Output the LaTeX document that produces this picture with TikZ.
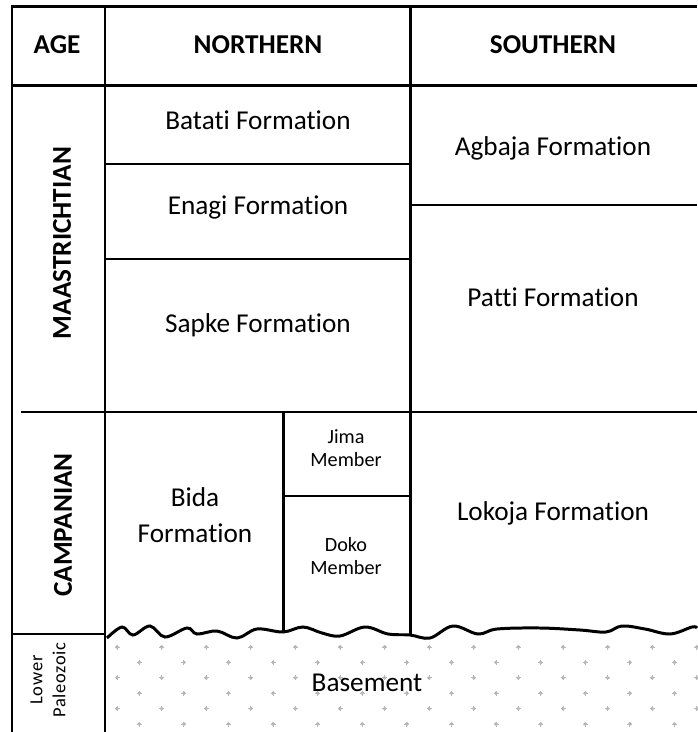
\documentclass[tikz,border=0pt]{standalone}
\usepackage{fontspec}
\setmainfont{Carlito}[Ligatures=NoCommon]
\tikzset{
  hd/.style={font=\fontsize{15.5}{18}\selectfont\bfseries},
  fm/.style={font=\fontsize{15.5}{20.5}\selectfont, align=center},
  mb/.style={font=\fontsize{11.5}{13.5}\selectfont, align=center},
  lp/.style={font=\fontsize{10.5}{13}\selectfont\addfontfeature{LetterSpace=4}, align=center, rotate=90},
}
\newcommand{\speck}[2]{\fill[gray!70] (#1,#2) circle[radius=1.1pt];
  \draw[gray!55, line width=0.5pt] (#1-2.5,#2) -- (#1+2.5,#2) (#1,#2-2.5) -- (#1,#2+2.5);}

\begin{document}
\begin{tikzpicture}[x=0.02cm, y=-0.02cm, line width=1.7pt]
\useasboundingbox (0,0) rectangle (697,732);
% basement pattern
\foreach \y [count=\r] in {647,662.4,677.8,693.2,708.6,724} {
  \pgfmathsetmacro{\xs}{isodd(\r) ? 117 : 139.3}
  \foreach \k in {0,...,13} {
    \pgfmathsetmacro{\xx}{\xs+44.6*\k}
    \speck{\xx}{\y}
  }
}
% frame and columns
\draw (12,732) -- (12,7) -- (697,7);
\draw (12,86) -- (697,86);
\draw (105,7) -- (105,732);
\draw (410,7) -- (410,634);
\draw (105,164) -- (410,164) (105,259) -- (410,259);
\draw (410,205) -- (697,205);
\draw (21,412) -- (697,412);
\draw (283,412) -- (283,632) (283,496) -- (410,496);
\draw (12,634) -- (105,634);
% unconformity
\draw plot[smooth, tension=0.6] coordinates {(107,638) (122,627) (133,635) (150,626) (165,637) (187,628) (197,634)
  (217,631) (237,638) (257,629) (283,632) (303,627) (322,633) (340,636) (365,627) (388,634) (410,635)
  (430,638) (453,626) (478,634) (497,629) (540,628) (580,630) (606,632) (622,626) (645,629) (670,634)
  (692,627) (697,628)};
% labels
\node[hd] (age) at (57,45) {AGE};
\node[hd] (north) at (258,45) {NORTHERN};
\node[hd] (south) at (553,45) {SOUTHERN};
\node[hd, rotate=90] (maas) at (62,243) {MAASTRICHTIAN};
\node[hd, rotate=90] (camp) at (63,525) {CAMPANIAN};
\node[lp] (paleo) at (48,680) {Lower\\Paleozoic};
\node[fm] (batati) at (258,120) {Batati Formation};
\node[fm] (enagi) at (258,207) {Enagi Formation};
\node[fm] (sapke) at (258,325) {Sapke Formation};
\node[fm] (agbaja) at (553,148) {Agbaja Formation};
\node[fm] (patti) at (553,297) {Patti Formation};
\node[fm] (lokoja) at (553,513) {Lokoja Formation};
\node[fm] (bida) at (195,515) {Bida\\Formation};
\node[mb] (jima) at (346,448) {Jima\\Member};
\node[mb] (doko) at (346,556) {Doko\\Member};
\node[fm] (basement) at (367,683) {Basement};
\end{tikzpicture}
\end{document}
